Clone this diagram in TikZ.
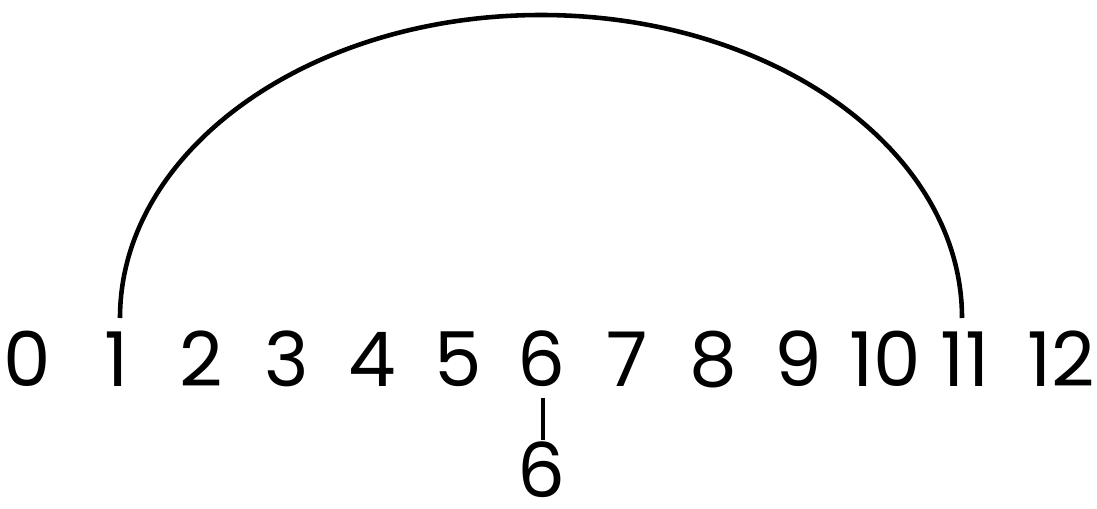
\documentclass[tikz,border=0pt]{standalone}
\usepackage{fontspec}
\setmainfont{Poppins}
\begin{document}
\begin{tikzpicture}[x=0.02cm,y=0.02cm,
  num/.style={anchor=base,inner sep=0pt,text depth=0pt,text height=30pt,font=\fontsize{43}{43}\selectfont},
  ln/.style={line width=2.6pt}]
\useasboundingbox (0,0) rectangle (1097,508);
\foreach \v/\x in {0/27,1/117,2/201,3/287,4/372,5/458,6/541,7/627,8/713,9/798,10/885,11/965,12/1061}
  \node[num] (n\v) at (\x,122) {\v};
\node[num] (b6) at (541,11) {6};
\coordinate (arcL) at (120,190);
\draw[ln] (arcL) arc[start angle=180,end angle=0,x radius=421,y radius=303] coordinate (arcR);
\draw[ln,shorten <=0.24cm,shorten >=0.08cm] ([xshift=0.04cm]n6.south) -- ([xshift=0.04cm]b6.north);
\end{tikzpicture}
\end{document}
